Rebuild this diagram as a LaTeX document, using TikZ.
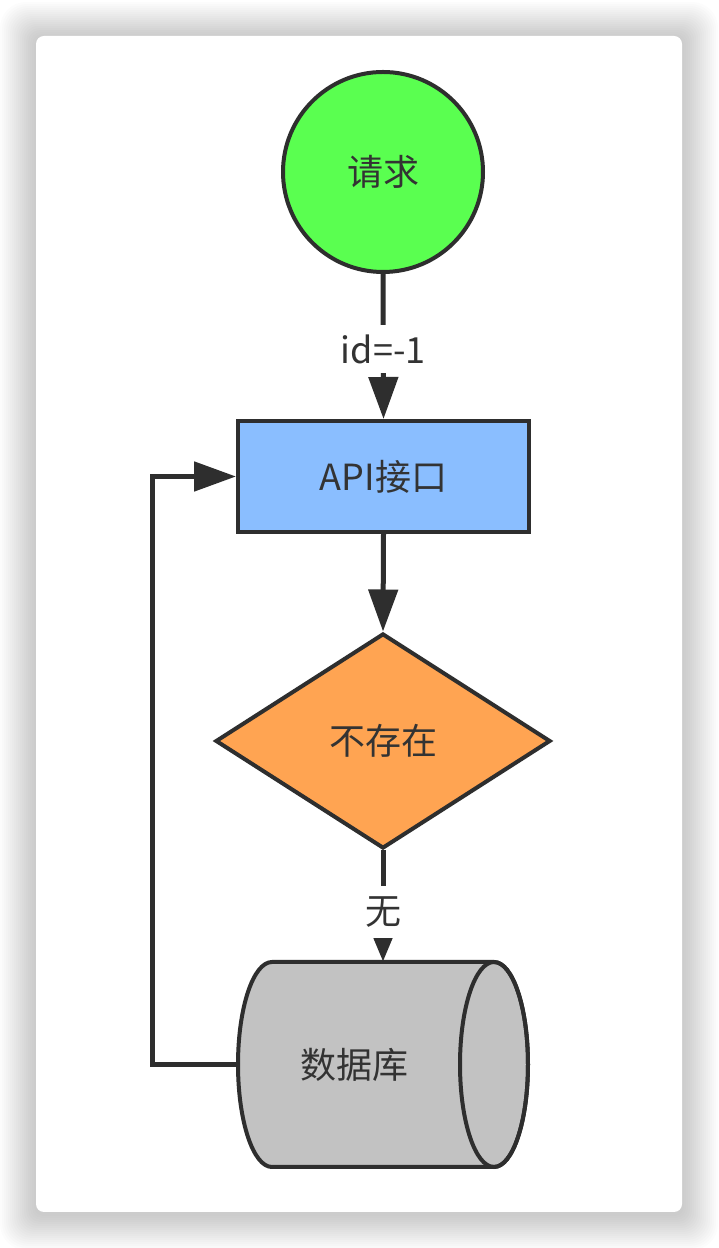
\documentclass[tikz,border=0pt]{standalone}
\usepackage{fontspec}
\setmainfont{Noto Sans CJK SC}
\usetikzlibrary{shapes.geometric,arrows.meta}
\definecolor{strokec}{HTML}{2E2E2E}
\definecolor{textc}{HTML}{333333}
\definecolor{greenc}{HTML}{5AFF50}
\definecolor{bluec}{HTML}{8ABEFF}
\definecolor{orangec}{HTML}{FFA452}
\definecolor{grayc}{HTML}{C2C2C2}
\begin{document}
\begin{tikzpicture}[x=1pt,y=1pt,
  shapebox/.style={draw=strokec, line width=4pt, text=textc, font=\fontsize{36}{42}\selectfont, inner sep=0pt},
  conn/.style={draw=strokec, line width=5pt},
  bigtip/.style={-{Triangle[length=42pt,width=29pt]}},
  smalltip/.style={-{Triangle[length=24pt,width=18pt]}},
  edgelabel/.style={fill=white, text=textc, font=\fontsize{36}{42}\selectfont, inner xsep=2pt, inner ysep=0pt, minimum height=48pt}]
\useasboundingbox (0,0) rectangle (718,1248);
% card shadow
\foreach \i in {1,...,18} {
  \fill[black, opacity=0.012, rounded corners={8+\i}] ({36-2*\i},{36-2*\i-2}) rectangle ({682+2*\i},{1212+2*\i-2});
}
\fill[white, rounded corners=8pt] (36,36) rectangle (682,1212);

% nodes
\node[circle, shapebox, fill=greenc, minimum size=200pt] (req) at (383,1076) {请求};
\node[rectangle, shapebox, fill=bluec, minimum width=291pt, minimum height=111pt] (api) at (383.5,771.5) {API接口};
\node[diamond, shapebox, fill=orangec, minimum width=335pt, minimum height=215pt] (chk) at (383,507) {不存在};

% cylinder (database)
\node[minimum width=290pt, minimum height=205pt, inner sep=0pt] (db) at (383,183.5) {};
\filldraw[draw=strokec, fill=grayc, line width=4pt, line join=round]
  (494,286) -- (272,286) arc[start angle=90, end angle=270, x radius=34, y radius=102.5]
  -- (494,81) arc[start angle=-90, end angle=90, x radius=34, y radius=102.5] -- cycle;
\draw[draw=strokec, line width=4pt] (494,183.5) ellipse[x radius=34, y radius=102.5];
\node[text=textc, font=\fontsize{36}{42}\selectfont, inner sep=0pt] (dbt) at (354,183.5) {数据库};

% connectors
\draw[conn, bigtip] (req.south) -- node[edgelabel, pos=0.52] (l1) {id=-1} (api.north);
\draw[conn, bigtip] (api.south) -- (chk.north);
\draw[conn, smalltip] (chk.south) -- node[edgelabel, pos=0.55, minimum height=52pt] (l2) {无} (db.north);
\draw[conn, bigtip] (db.west) -- ++(-85,0) |- (api.west);
\end{tikzpicture}
\end{document}
